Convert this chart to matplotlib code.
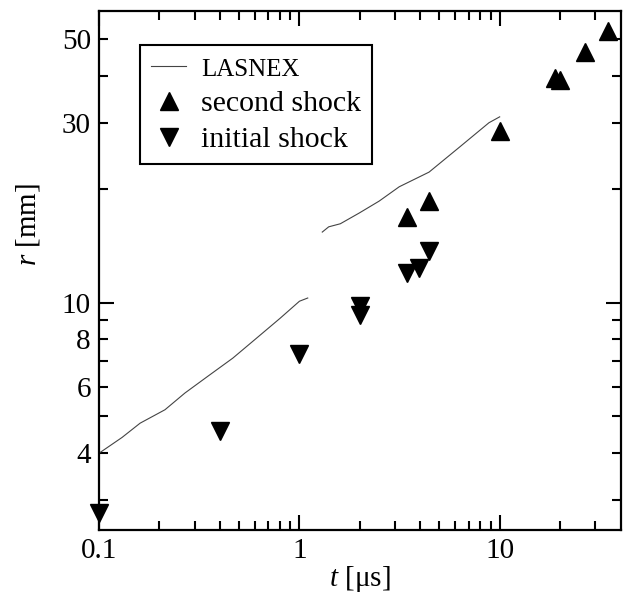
import numpy as np
import matplotlib
matplotlib.use("Agg")
from matplotlib import pyplot as plt

plt.rcParams['font.family'] = ['Liberation Serif', 'DejaVu Serif']
plt.rcParams['mathtext.fontset'] = 'custom'
plt.rcParams['mathtext.rm'] = 'Liberation Serif'
plt.rcParams['mathtext.it'] = 'Liberation Serif:italic'

# LASNEX simulation (two pieces)
lasnex_t1 = [0.1, 0.13, 0.16, 0.213, 0.268, 0.35, 0.465, 0.6, 0.8, 1.0, 1.1]
lasnex_r1 = [4.0, 4.4, 4.8, 5.21, 5.77, 6.4, 7.14, 8.0, 9.1, 10.1, 10.3]
lasnex_t2 = [1.3, 1.4, 1.6, 1.99, 2.5, 3.15, 4.44, 6.27, 8.84, 10.0]
lasnex_r2 = [15.4, 15.9, 16.2, 17.3, 18.6, 20.3, 22.2, 25.8, 30.0, 31.1]

# measured shock radii
second_t = [3.46, 4.44, 10.0, 19.0, 20.1, 26.6, 34.8]
second_r = [16.9, 18.6, 28.5, 39.5, 39.0, 46.3, 52.4]
initial_t = [0.1, 0.4, 1.0, 2.0, 2.0, 3.46, 3.96, 4.44]
initial_r = [2.77, 4.59, 7.33, 9.8, 9.3, 12.0, 12.4, 13.7]

fig = plt.figure(figsize=(6.24, 5.97), dpi=100)
ax = fig.add_axes([0.159, 0.112, 0.836, 0.870])

ax.plot(lasnex_t1, lasnex_r1, color='#444444', lw=0.8, label='LASNEX')
ax.plot(lasnex_t2, lasnex_r2, color='#444444', lw=0.8)
ax.plot(second_t, second_r, '^', color='black', ms=13, ls='none', label='second shock', clip_on=False)
ax.plot(initial_t, initial_r, 'v', color='black', ms=13, ls='none', label='initial shock', clip_on=False)

ax.set_xscale('log')
ax.set_yscale('log')
ax.set_xlim(0.1, 40.3)
ax.set_ylim(2.5, 59.4)

xmaj = [0.1, 1, 10]
xmin = [0.2, 0.3, 0.4, 0.5, 0.6, 0.7, 0.8, 0.9, 2, 3, 4, 5, 6, 7, 8, 9, 20, 30]
ax.set_xticks(xmaj, labels=['0.1', '1', '10'])
ax.set_xticks(xmin, labels=[''] * len(xmin), minor=True)

ymin = [3, 4, 5, 6, 7, 8, 9, 20, 30, 40, 50]
ymin_lab = ['', '4', '', '6', '', '8', '', '', '30', '', '50']
ax.set_yticks([10], labels=['10'])
ax.set_yticks(ymin, labels=ymin_lab, minor=True)

ax.tick_params(which='both', direction='in', top=True, right=True, width=1.5, labelsize=21, pad=6)
ax.tick_params(which='major', length=11)
ax.tick_params(which='minor', length=6.5)
for s in ax.spines.values():
    s.set_linewidth(1.6)

ax.set_xlabel('$t$ [μs]', fontsize=21, labelpad=0)
ax.set_ylabel('$r$ [mm]', fontsize=21)
ax.yaxis.set_label_coords(-0.109, 0.588)

leg = ax.legend(loc='upper left', bbox_to_anchor=(0.0785, 0.934), borderaxespad=0,
                fancybox=False, edgecolor='black', fontsize=21.5, handlelength=1.2,
                handletextpad=0.5, labelspacing=0.3, borderpad=0.35, framealpha=1)
leg.get_frame().set_linewidth(1.5)
leg.get_texts()[0].set_fontsize(18)

fig.savefig('out.png', dpi=100)
